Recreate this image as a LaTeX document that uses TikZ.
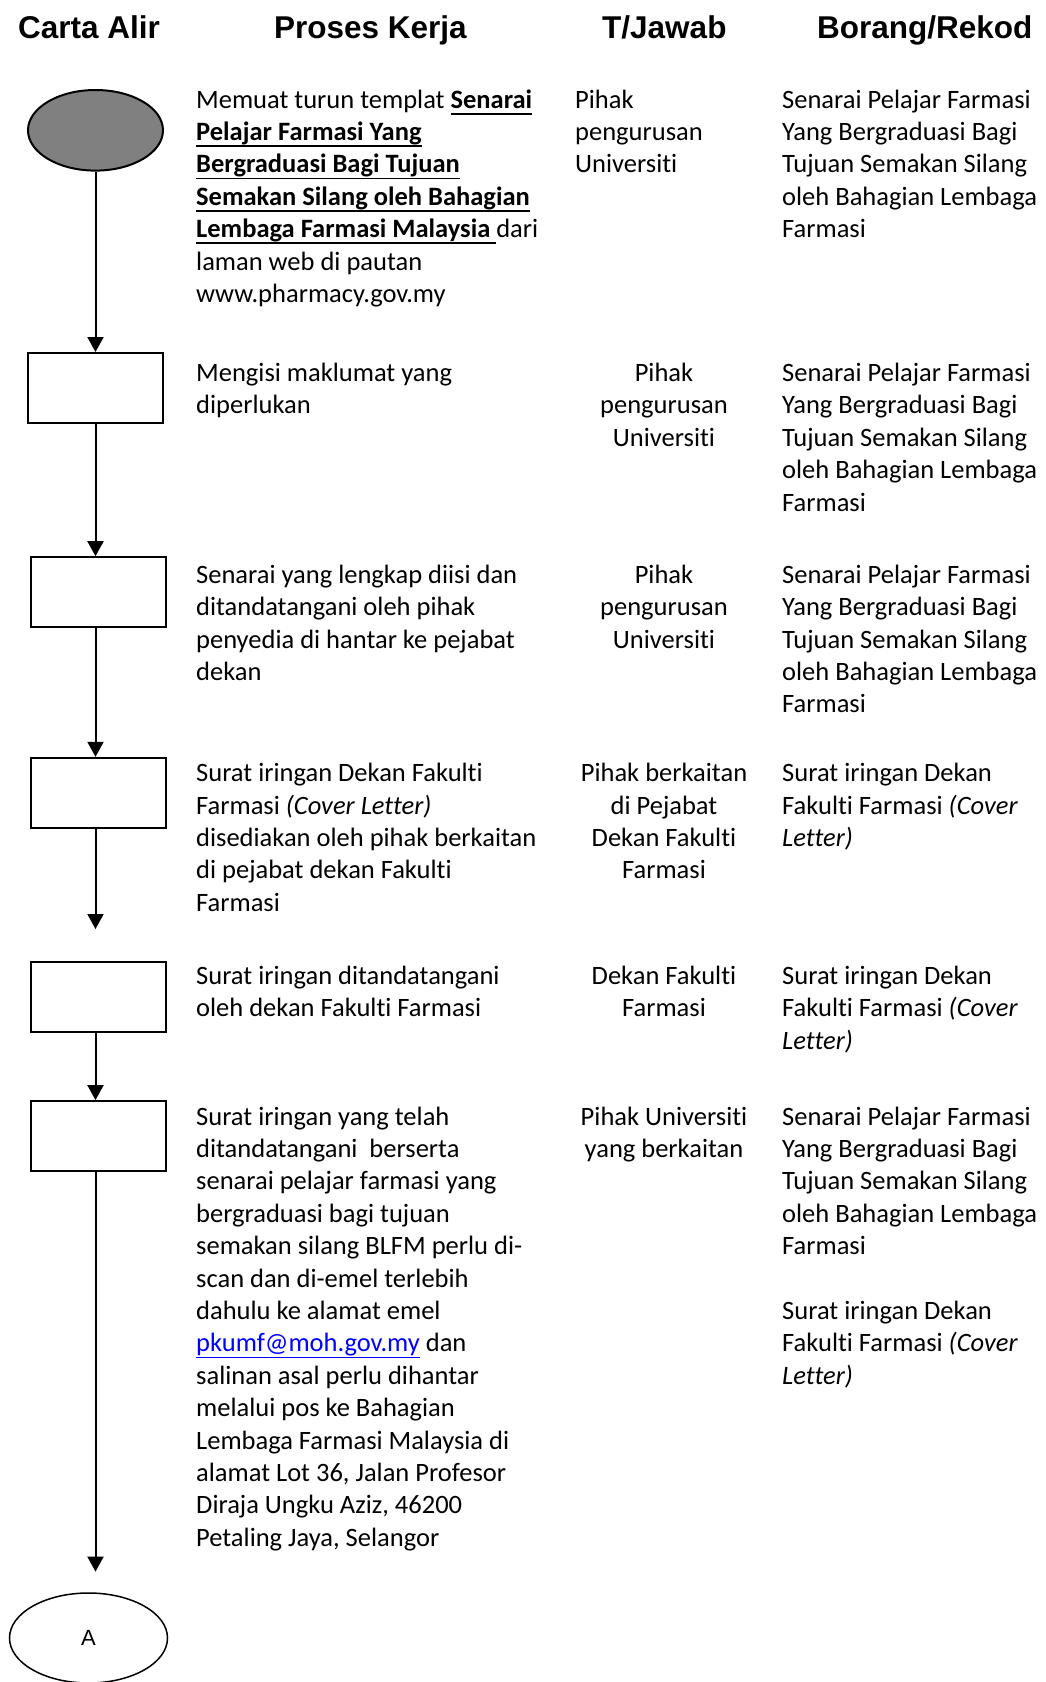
\documentclass[tikz,border=0pt]{standalone}
\usepackage{fontspec}
\setmainfont{Carlito}[Ligatures=NoCommon]
\newfontfamily\headfont{Liberation Sans}
\usetikzlibrary{arrows.meta,shapes.geometric}
\definecolor{startgray}{RGB}{128,128,128}
\definecolor{linkblue}{RGB}{0,0,255}
\newsavebox{\ulbox}
\newcommand{\ulx}[1]{\sbox{\ulbox}{#1}\rlap{\rule[-6.6pt]{\wd\ulbox}{1.8pt}}\usebox{\ulbox}}
\newcommand{\ulbf}[1]{\ulx{\textbf{#1}}}
\begin{document}
\begin{tikzpicture}[x=1pt, y=-1pt,
        every node/.style={inner sep=0pt, font=\fontsize{26.5}{32.4}\selectfont},
        head/.style={anchor=base west, font=\headfont\bfseries\fontsize{31.5}{36}\selectfont},
        txt/.style={anchor=base west, align=left},
        mid/.style={anchor=base, align=center},
        box/.style={draw, line width=2pt, minimum width=135pt, minimum height=70pt},
        flow/.style={line width=2pt, -{Triangle[width=16pt,length=15pt]}}]
        \useasboundingbox[fill=white] (0, 0) rectangle (1046, 1682);
        \node[head] (h1) at (18, 38.5) {Carta Alir};
        \node[head] (h2) at (274, 38.5) {Proses Kerja};
        \node[head] (h3) at (602, 38.5) {T/Jawab};
        \node[head] (h4) at (817, 38.5) {Borang/Rekod};
        \node[ellipse, draw, line width=2pt, fill=startgray, minimum width=135pt, minimum height=80.6pt] (start) at (95.5, 130.3) {};
        \node[box] (r1) at (95.5, 388) {};
        \node[box] (r2) at (98.1, 592.2) {};
        \node[box] (r3) at (98.7, 792.8) {};
        \node[box] (r4) at (98.7, 996.6) {};
        \node[box] (r5) at (98.7, 1136.1) {};
        \node[ellipse, draw, line width=1.5pt, minimum width=158pt, minimum height=90pt, font=\headfont\fontsize{22}{26}\selectfont] (end) at (88.5, 1638) {A};
        \coordinate (axis) at (95.5, 0);
        \coordinate (gap1) at (95.5, 929);
        \coordinate (gap2) at (95.5, 1571.6);
        \draw[flow] (start) -- (r1);
        \draw[flow] (r1.south -| axis) -- (r2.north -| axis);
        \draw[flow] (r2.south -| axis) -- (r3.north -| axis);
        \draw[flow] (r3.south -| axis) -- (gap1);
        \draw[flow] (r4.south -| axis) -- (r5.north -| axis);
        \draw[flow] (r5.south -| axis) -- (gap2);
        \node[txt] (p1) at (196, 302.4) {Memuat turun templat \ulbf{Senarai}\\\ulbf{Pelajar Farmasi Yang}\\\ulbf{Bergraduasi Bagi Tujuan}\\\ulbf{Semakan Silang oleh Bahagian}\\\ulbf{Lembaga Farmasi Malaysia }dari\\laman web di pautan\\www.pharmacy.gov.my};
        \node[txt] (p2) at (196, 413.9) {Mengisi maklumat yang\\diperlukan};
        \node[txt] (p3) at (196, 680.4) {Senarai yang lengkap diisi dan\\ditandatangani oleh pihak\\penyedia di hantar ke pejabat\\dekan};
        \node[txt] (p4) at (196, 911.3) {Surat iringan Dekan Fakulti\\Farmasi \textit{(Cover Letter)}\\disediakan oleh pihak berkaitan\\di pejabat dekan Fakulti\\Farmasi};
        \node[txt] (p5) at (196, 1016.9) {Surat iringan ditandatangani\\oleh dekan Fakulti Farmasi};
        \node[txt] (p6) at (196, 1546.2) {Surat iringan yang telah\\ditandatangani\ \ berserta\\senarai pelajar farmasi yang\\bergraduasi bagi tujuan\\semakan silang BLFM perlu di-\\scan dan di-emel terlebih\\dahulu ke alamat emel\\\textcolor{linkblue}{\ulx{pkumf@moh.gov.my}} dan\\salinan asal perlu dihantar\\melalui pos ke Bahagian\\Lembaga Farmasi Malaysia di\\alamat Lot 36, Jalan Profesor\\Diraja Ungku Aziz, 46200\\Petaling Jaya, Selangor};
        \node[txt] (t1) at (575, 172.8) {Pihak\\pengurusan\\Universiti};
        \node[mid] (t2) at (664, 446.3) {Pihak\\pengurusan\\Universiti};
        \node[mid] (t3) at (664, 648) {Pihak\\pengurusan\\Universiti};
        \node[mid] (t4) at (664, 878.9) {Pihak berkaitan\\di Pejabat\\Dekan Fakulti\\Farmasi};
        \node[mid] (t5) at (664, 1016.9) {Dekan Fakulti\\Farmasi};
        \node[mid] (t6) at (664, 1157.4) {Pihak Universiti\\yang berkaitan};
        \node[txt] (b1) at (782, 237.6) {Senarai Pelajar Farmasi\\Yang Bergraduasi Bagi\\Tujuan Semakan Silang\\oleh Bahagian Lembaga\\Farmasi};
        \node[txt] (b2) at (782, 511.1) {Senarai Pelajar Farmasi\\Yang Bergraduasi Bagi\\Tujuan Semakan Silang\\oleh Bahagian Lembaga\\Farmasi};
        \node[txt] (b3) at (782, 712.8) {Senarai Pelajar Farmasi\\Yang Bergraduasi Bagi\\Tujuan Semakan Silang\\oleh Bahagian Lembaga\\Farmasi};
        \node[txt] (b4) at (782, 846.5) {Surat iringan Dekan\\Fakulti Farmasi \textit{(Cover}\\\textit{Letter)}};
        \node[txt] (b5) at (782, 1049.3) {Surat iringan Dekan\\Fakulti Farmasi \textit{(Cover}\\\textit{Letter)}};
        \node[txt] (b6) at (782, 1384.2) {Senarai Pelajar Farmasi\\Yang Bergraduasi Bagi\\Tujuan Semakan Silang\\oleh Bahagian Lembaga\\Farmasi\\[32.4pt]Surat iringan Dekan\\Fakulti Farmasi \textit{(Cover}\\\textit{Letter)}};
    \end{tikzpicture}
\end{document}
